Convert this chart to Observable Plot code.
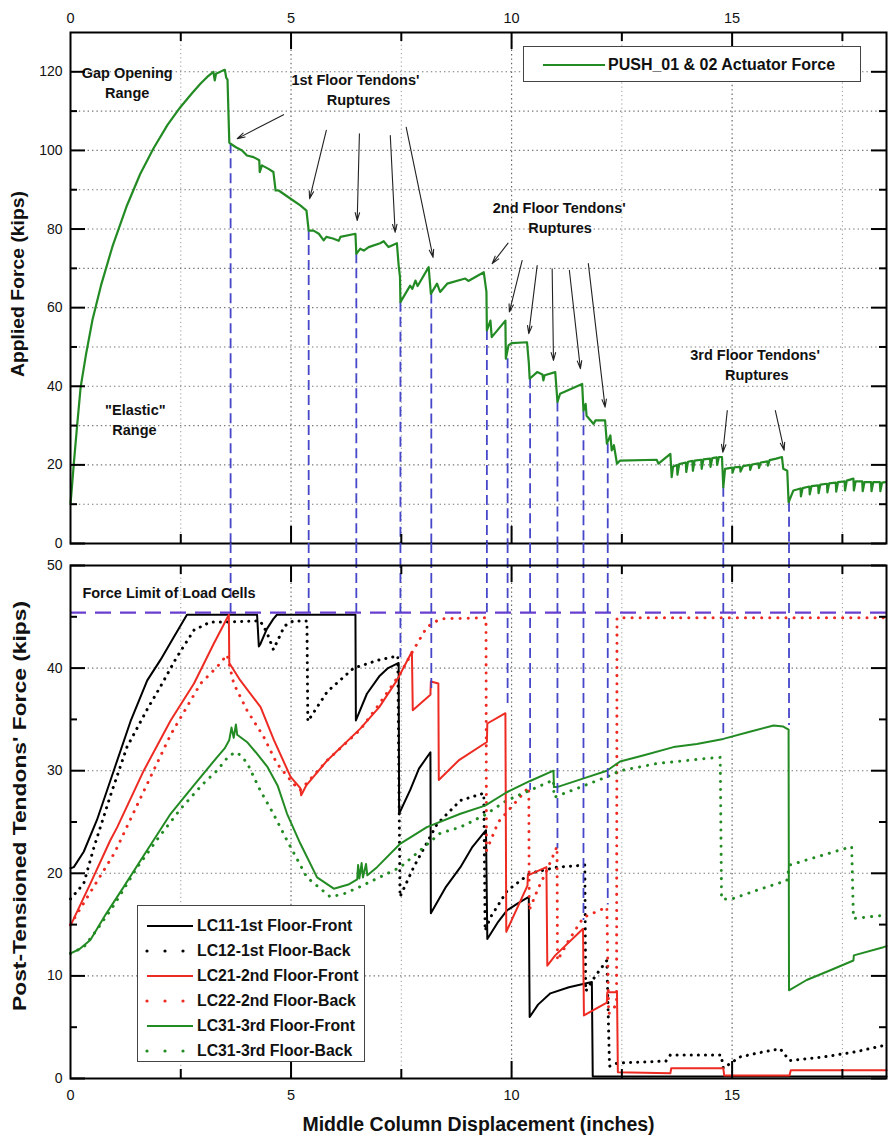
<!DOCTYPE html>
<html>
<head>
<meta charset="utf-8">
<script src="https://cdn.jsdelivr.net/npm/d3@7"></script>
<script src="https://cdn.jsdelivr.net/npm/@observablehq/plot@0.6"></script>
<style>
  body { margin: 0; background: #fff; }
  #wrap { position: relative; width: 889px; height: 1141px; font-family: "Liberation Sans", Arial, sans-serif; overflow: hidden; }
  .panel { position: absolute; left: 0; }
  .panel svg { background: transparent !important; display: block; }
  .legend { position: absolute; background: #fff; border: 1px solid #444; box-sizing: border-box; }
  .lrow { position: absolute; left: 0; height: 20px; display: flex; align-items: center; white-space: nowrap; font-weight: bold; color: #111; }
  .lrow svg { flex: none; }
</style>
</head>
<body>
<div id="wrap">
  <div class="panel" id="topPanel" style="top:0"></div>
  <div class="panel" id="botPanel" style="top:543px"></div>
</div>
<script>
// ---------------- DATA ----------------
const xDomain = [0, 18.5];
const topYDomain = [0, 130];
const botYDomain = [0, 50];

// Applied force (kips) vs middle column displacement (inches)
const pushForce = [
  [0,10],[0.03,14],[0.075,20.3],[0.15,30],[0.23,39.8],[0.35,48],[0.5,57],[0.7,66],[0.95,75.5],[1.28,86],[1.58,94],[1.88,100.5],[2.2,106.5],[2.49,111],[2.75,114.5],[2.95,117],[3.1,118.7],[3.24,120],[3.27,117.8],[3.3,119.5],[3.45,120.3],[3.5,120.5],[3.53,118.5],[3.56,118],[3.6,102],[3.63,101.7],[3.75,100.8],[3.89,100],[4.0,98.7],[4.15,98.3],[4.28,97.5],[4.29,94.5],[4.34,96.2],[4.49,95.3],[4.6,94.5],[4.65,89.8],[4.72,89.8],[4.99,87.7],[5.21,86],[5.35,84.7],[5.4,79.6],[5.51,79.6],[5.63,78.8],[5.74,77.1],[5.8,78],[5.95,77.6],[6.08,77],[6.12,78],[6.46,78.8],[6.48,73.7],[6.57,75],[6.65,74.5],[6.76,75.4],[7.02,76.4],[7.1,76.9],[7.21,75.4],[7.40,76.4],[7.44,70.7],[7.47,67.8],[7.48,61.4],[7.7,65.6],[7.75,64.8],[7.82,66.9],[7.87,65.5],[8.12,70.3],[8.17,63.5],[8.31,66.1],[8.38,64],[8.54,66.1],[8.95,67.4],[9.02,66.8],[9.37,69],[9.43,64],[9.44,54.2],[9.52,56.7],[9.55,52.5],[9.86,56.7],[9.87,47],[9.93,50.4],[10.0,51],[10.35,51.2],[10.39,46.1],[10.41,41.9],[10.58,43.6],[10.7,43],[10.72,41.5],[10.75,42.8],[10.99,43.6],[11.04,36],[11.1,38.1],[11.6,40.6],[11.63,33.8],[11.68,35.5],[11.7,32.5],[11.86,30.4],[11.9,31.3],[12.12,31.3],[12.16,25.4],[12.24,27.5],[12.27,23.7],[12.32,25],[12.39,20.3],[12.46,21.1],[13.29,21.3],[13.33,20.3],[13.6,22.8],[13.63,16.9],[13.66,19.5],[13.75,20],[13.76,17.5],[13.8,20.2],[13.95,20.6],[13.96,18.2],[14.0,20.8],[14.1,21],[14.11,18.5],[14.15,21.1],[14.3,21.3],[14.31,19],[14.35,21.4],[14.5,21.6],[14.51,19.5],[14.55,21.7],[14.65,21.9],[14.66,20],[14.7,22],[14.77,22],[14.8,14.3],[14.84,19],[15.0,19.3],[15.01,18],[15.05,19.4],[15.18,19.5],[15.19,18.3],[15.25,19.7],[15.4,20],[15.41,18.7],[15.45,20.1],[15.6,20.4],[15.61,19.2],[15.65,20.6],[15.8,20.9],[15.81,19.8],[15.85,21.2],[16.0,21.6],[16.13,22],[16.16,19],[16.25,18.5],[16.28,10.5],[16.39,13.5],[16.55,14],[16.56,12],[16.6,14.1],[16.75,14.5],[16.76,12.5],[16.8,14.6],[16.95,14.8],[16.96,12.8],[17.0,15],[17.15,15.2],[17.16,13],[17.2,15.3],[17.35,15.5],[17.36,13.2],[17.4,15.6],[17.55,15.8],[17.56,13.5],[17.6,16],[17.75,16.5],[17.76,13.5],[17.8,15.8],[17.95,15.8],[17.96,13.3],[18.0,15.6],[18.15,15.6],[18.16,13.3],[18.2,15.6],[18.35,15.6],[18.36,13.3],[18.4,15.5],[18.47,15.6]
];

// Post-tensioned tendon forces (kips)
const lc11 = [[0,20.5],[0.075,20.6],[0.3,22.1],[0.6,25.2],[0.98,30],[1.36,34.8],[1.74,38.8],[2.04,40.8],[2.34,43],[2.64,45.2],[4.23,45.2],[4.27,42.1],[4.3,42.3],[4.45,43.8],[4.6,44.8],[4.68,45.2],[6.46,45.2],[6.47,34.9],[6.72,37.5],[7.0,39.2],[7.2,40],[7.44,40.5],[7.45,25.8],[7.7,28.1],[7.9,30.2],[8.16,31.8],[8.17,16.1],[8.5,18.6],[8.84,20.6],[9.1,22.5],[9.42,24.2],[9.45,13.6],[9.7,15.3],[9.9,16.4],[10.15,17.1],[10.39,17.7],[10.41,6.0],[10.6,7.2],[10.88,8.3],[11.3,8.9],[11.82,9.4],[11.84,0.2],[18.5,0.2]];
const lc12 = [[0,17.5],[0.3,19],[0.53,22.5],[0.9,27.5],[1.28,32.3],[1.74,36],[2.04,38.2],[2.4,41],[2.8,43.7],[3.17,44.5],[3.55,44.5],[4.3,44.6],[4.45,43.5],[4.6,41.8],[4.85,44.1],[5.05,44.6],[5.36,44.6],[5.38,34.8],[5.82,37.7],[6.42,40],[7.0,40.8],[7.33,41.1],[7.42,41.2],[7.47,17.7],[7.78,20.6],[8.31,24.8],[8.84,27.1],[9.37,27.8],[9.4,14.4],[9.52,15.7],[9.9,18.3],[10.42,20],[11.03,20.6],[11.66,20.8],[11.68,8.5],[11.9,10],[12.16,11.5],[12.22,1.2],[12.4,1.5],[13.5,1.7],[13.6,2.3],[14.75,2.3],[14.8,1.0],[14.9,1.3],[15.18,2.1],[15.6,2.5],[16.09,2.9],[16.3,1.75],[17.07,2.1],[17.8,2.6],[18.42,3.2]];
const lc21 = [[0,14.9],[0.45,19],[0.9,23.2],[1.06,24.5],[1.66,30],[2.27,34.9],[2.8,38.5],[3.25,42.4],[3.59,45.2],[3.6,40.5],[3.85,38.8],[4.31,36.2],[4.61,33],[4.99,29.4],[5.21,28.3],[5.23,27.6],[5.35,28.6],[5.82,31],[6.57,34.1],[7.0,36.2],[7.4,38.8],[7.74,41.6],[7.76,35.9],[8.16,37.4],[8.17,38.7],[8.34,38.5],[8.35,29.1],[8.8,31],[9.44,32.8],[9.45,34.6],[9.86,35.6],[9.88,14.3],[10.36,18.8],[10.37,19.8],[10.79,20.6],[10.81,11.0],[10.99,12],[11.62,14.6],[11.64,6.15],[12.16,7.4],[12.17,8.4],[12.39,8.4],[12.41,0.6],[13.6,0.5],[13.62,1.0],[14.8,1.0],[14.82,0.3],[16.3,0.3],[16.33,0.8],[18.5,0.8]];
const lc22 = [[0,15],[0.5,18.5],[1.0,22],[1.66,28],[2.27,33.5],[2.95,38.5],[3.32,40.1],[3.55,41.3],[3.7,38.5],[4.0,35.9],[4.38,33.3],[4.68,30.7],[5.06,28.7],[5.21,28.1],[5.82,31],[6.57,34],[7.0,36.5],[7.48,39.5],[7.78,41.8],[8.08,44],[8.38,44.8],[9.42,44.9],[9.43,22.2],[9.7,25],[10.39,28.4],[10.4,16.4],[10.6,18.5],[10.8,20.3],[11.03,22.6],[11.04,11.5],[11.3,13.5],[11.63,15.7],[12.16,16.7],[12.2,6.3],[12.3,6.8],[12.38,7.2],[12.39,44.9],[18.5,44.9]];
const lc31 = [[0,12.2],[0.2,12.6],[0.45,13.5],[0.8,16],[1.21,18.7],[1.7,22],[2.27,25.8],[2.8,28.6],[3.32,31.3],[3.5,32.2],[3.6,33],[3.65,34.2],[3.7,33.2],[3.75,34.5],[3.78,33.5],[4.0,32.8],[4.2,31.8],[4.46,30.4],[4.7,28.5],[4.91,25.8],[5.21,22.9],[5.59,19.6],[5.97,18.5],[6.3,18.9],[6.5,19.4],[6.52,20.8],[6.55,19.5],[6.6,21],[6.63,19.6],[6.7,20.9],[6.73,19.8],[6.95,20.6],[7.48,22.9],[8.08,24.5],[8.84,25.8],[9.4,26.6],[9.89,27.9],[10.42,29],[10.95,30],[10.96,28.4],[11.03,28.4],[11.6,29.2],[12.16,30],[12.46,30.9],[13.0,31.5],[13.67,32.3],[14.2,32.6],[14.8,33.1],[15.4,33.8],[15.94,34.4],[16.16,34.3],[16.28,34],[16.29,8.6],[16.69,9.6],[17.2,10.5],[17.75,11.5],[17.76,12],[18.43,12.8],[18.5,12.9]];
const lc32 = [[0,12.2],[0.3,12.8],[0.6,14.5],[1.0,17],[1.5,20.5],[2.0,23.5],[2.5,26.3],[3.0,28.7],[3.32,30],[3.6,31.5],[3.78,31.8],[4.0,30.8],[4.3,28.1],[4.6,25.8],[4.91,23.2],[5.36,19.6],[5.89,17.7],[6.2,18],[6.57,18.7],[7.48,20.6],[8.38,23.9],[8.84,24.5],[9.4,25.7],[9.89,27.1],[10.95,29.1],[10.96,27.4],[11.5,28.3],[12.16,29.4],[12.46,30],[13.3,30.7],[14.43,31.2],[14.73,31.3],[14.76,17.5],[14.99,17.5],[15.6,18.4],[16.24,19.3],[16.3,20.8],[17.0,21.7],[17.71,22.6],[17.75,15.6],[18.43,15.9],[18.5,15.9]];

const forceLimit = 45.4;

// Rupture markers: displacement, applied force at rupture, tendon force where the dashed line ends
const ruptureX   = [3.63, 5.40, 6.48, 7.48, 8.18, 9.44, 9.91, 10.42, 11.04, 11.63, 12.18, 14.80, 16.29];
const ruptureTop = [101.7, 79.6, 73.7, 61.4, 63.5, 54.2, 47, 41.9, 36, 33.8, 25.4, 14.3, 10.5];
const ruptureBot = [45.4, 45.4, 45.4, 41, 37.5, 45.4, 36.2, 28.1, 22.4, 15.4, 16.9, 33.1, 34.4];

// Annotations (top panel)
const annoText = ["Gap Opening", "Range", "1st Floor Tendons'", "Ruptures", "2nd Floor Tendons'", "Ruptures", "3rd Floor Tendons'", "Ruptures", "\"Elastic\"", "Range"];
const annoX = [1.285, 1.285, 6.46, 6.53, 11.08, 11.10, 15.52, 15.56, 1.47, 1.45];
const annoY = [119.6, 114.4, 117.8, 112.7, 85.3, 80.1, 47.8, 42.7, 33.8, 28.8];

const arrowX1 = [4.83, 5.80, 6.55, 7.25, 7.61, 9.92, 10.24, 10.58, 10.92, 11.31, 11.74, 14.89, 15.98];
const arrowY1 = [109.1, 105.1, 104.2, 103.8, 105.9, 76.4, 72.0, 70.7, 69.9, 69.5, 71.2, 33.8, 33.8];
const arrowX2 = [3.78, 5.42, 6.50, 7.36, 8.22, 9.56, 9.95, 10.39, 10.95, 11.56, 12.12, 14.79, 16.18];
const arrowY2 = [103.0, 87.7, 82.2, 79.2, 72.8, 71.2, 58.9, 53.4, 46.6, 44.5, 34.7, 23.2, 23.7];

// Ticks / grid
const xTickLabels = [0, 5, 10, 15];
const xTicksMajor = [5, 10, 15];
const xTicksMinor = [2.5, 7.5, 12.5, 17.5];
const topYLabels = [0, 20, 40, 60, 80, 100, 120];
const topYMinor = [10, 30, 50, 70, 90, 110];
const topGridY = [10, 20, 30, 40, 50, 60, 70, 80, 90, 100, 110, 120];
const botYLabels = [0, 10, 20, 30, 40, 50];
const botYMinor = [5, 15, 25, 35, 45];
const botGridY = [10, 20, 30, 40];

// Legends
const topLegendLabel = "PUSH_01 & 02 Actuator Force";
const legendLabels = ["LC11-1st Floor-Front", "LC12-1st Floor-Back", "LC21-2nd Floor-Front", "LC22-2nd Floor-Back", "LC31-3rd Floor-Front", "LC31-3rd Floor-Back"];
const GREEN = "#238b23", RED = "#ee2b22", BLUE = "#4747c9", PURPLE = "#6a3fcf";
const legendColors = ["#000", "#000", RED, RED, GREEN, GREEN];
const legendDotted = [false, true, false, true, false, true];

// ---------------- DRAW ----------------
const FONT = "'Liberation Sans', Arial, sans-serif";
const W = 889, ML = 70, MR = 3;
const innerW = W - ML - MR;
const X = d => d[0], Y = d => d[1];

const ruptures = ruptureX.map((x, i) => ({x, top: ruptureTop[i], bot: ruptureBot[i]}));
const annos = annoText.map((t, i) => ({t, x: annoX[i], y: annoY[i]}));
const arrows = arrowX1.map((x1, i) => ({x1, y1: arrowY1[i], x2: arrowX2[i], y2: arrowY2[i]}));

function frameTicks(innerH) {
  return [
    Plot.tickX(xTicksMajor, {insetBottom: innerH - 17, stroke: "#000", strokeWidth: 2}),
    Plot.tickX(xTicksMinor, {insetBottom: innerH - 9, stroke: "#000", strokeWidth: 2}),
    Plot.tickX(xTicksMajor, {insetTop: innerH - 17, stroke: "#000", strokeWidth: 2}),
    Plot.tickX(xTicksMinor, {insetTop: innerH - 9, stroke: "#000", strokeWidth: 2})
  ];
}
function yTicks(major, minor) {
  return [
    Plot.tickY(major, {insetRight: innerW - 15, stroke: "#000", strokeWidth: 2}),
    Plot.tickY(minor, {insetRight: innerW - 7, stroke: "#000", strokeWidth: 2}),
    Plot.tickY(major, {insetLeft: innerW - 15, stroke: "#000", strokeWidth: 2}),
    Plot.tickY(minor, {insetLeft: innerW - 7, stroke: "#000", strokeWidth: 2})
  ];
}
const gridMarks = (gy) => [
  Plot.ruleX(xTicksMinor, {stroke: "#9a9a9a", strokeDasharray: "1.2,3", strokeWidth: 1}),
  Plot.ruleX(xTicksMajor, {stroke: "#666", strokeDasharray: "1.4,3", strokeWidth: 1.2}),
  Plot.ruleY(gy, {stroke: "#777", strokeDasharray: "1.4,3", strokeWidth: 1.1})
];

// Top panel
const topInnerH = 511;
const topPlot = Plot.plot({
  width: W, height: 556, marginLeft: ML, marginRight: MR, marginTop: 32, marginBottom: 13,
  style: {background: "transparent", fontFamily: FONT, color: "#111"},
  x: {domain: xDomain},
  y: {domain: topYDomain},
  marks: [
    ...gridMarks(topGridY),
    Plot.ruleX(ruptures, {x: "x", y1: "top", y2: 0, stroke: BLUE, strokeWidth: 1.8, strokeDasharray: "10,5"}),
    Plot.line(pushForce, {x: X, y: Y, stroke: GREEN, strokeWidth: 2.2, curve: "linear"}),
    Plot.arrow(arrows, {x1: "x1", y1: "y1", x2: "x2", y2: "y2", stroke: "#222", strokeWidth: 1.1, headLength: 11, headAngle: 32}),
    Plot.text(annos, {x: "x", y: "y", text: "t", fontSize: 14.5, fontWeight: "bold", fill: "#111"}),
    Plot.frame({stroke: "#000", strokeWidth: 2}),
    ...frameTicks(topInnerH),
    ...yTicks(topYLabels, topYMinor),
    Plot.axisX({anchor: "top", ticks: xTickLabels, tickSize: 0, tickPadding: 10, fontSize: 14.5, label: null}),
    Plot.axisY({anchor: "left", ticks: topYLabels, tickSize: 0, tickPadding: 8, fontSize: 14, label: null}),
    Plot.text(["Applied Force (kips)"], {text: d => d, frameAnchor: "left", rotate: -90, dx: -52, dy: -4, fontSize: 18, fontWeight: "bold", fill: "#111"})
  ]
});

// Bottom panel
const botInnerH = 513;
const gapTop = botYDomain[1] + 22 / (botInnerH / (botYDomain[1] - botYDomain[0]));
const botPlot = Plot.plot({
  width: W, height: 598, marginLeft: ML, marginRight: MR, marginTop: 22, marginBottom: 63,
  style: {background: "transparent", fontFamily: FONT, color: "#111"},
  x: {domain: xDomain},
  y: {domain: botYDomain},
  marks: [
    ...gridMarks(botGridY),
    Plot.line(lc12, {x: X, y: Y, stroke: "#000", strokeWidth: 3, strokeDasharray: "0.1,7", strokeLinecap: "round"}),
    Plot.line(lc11, {x: X, y: Y, stroke: "#000", strokeWidth: 2}),
    Plot.line(lc22, {x: X, y: Y, stroke: RED, strokeWidth: 3, strokeDasharray: "0.1,8", strokeLinecap: "round"}),
    Plot.line(lc32, {x: X, y: Y, stroke: GREEN, strokeWidth: 3, strokeDasharray: "0.1,8", strokeLinecap: "round"}),
    Plot.line(lc21, {x: X, y: Y, stroke: RED, strokeWidth: 2}),
    Plot.line(lc31, {x: X, y: Y, stroke: GREEN, strokeWidth: 2}),
    Plot.ruleY([forceLimit], {stroke: PURPLE, strokeWidth: 2.3, strokeDasharray: "16,9"}),
    Plot.ruleX(ruptures, {x: "x", y1: gapTop, y2: "bot", stroke: BLUE, strokeWidth: 1.8, strokeDasharray: "10,5"}),
    Plot.text(["Force Limit of Load Cells"], {text: d => d, x: 0.27, y: 47.3, textAnchor: "start", fontSize: 14.5, fontWeight: "bold", fill: "#111"}),
    Plot.frame({stroke: "#000", strokeWidth: 2}),
    ...frameTicks(botInnerH),
    ...yTicks(botYLabels, botYMinor),
    Plot.axisX({anchor: "bottom", ticks: xTickLabels, tickSize: 0, tickPadding: 11, fontSize: 14.5, label: null}),
    Plot.axisY({anchor: "left", ticks: botYLabels, tickSize: 0, tickPadding: 8, fontSize: 14, label: null}),
    Plot.text(["Post-Tensioned Tendons' Force (kips)"], {text: d => d, frameAnchor: "left", rotate: -90, dx: -50, dy: -16, fontSize: 18, fontWeight: "bold", fill: "#111"}),
    Plot.text(["Middle Column Displacement (inches)"], {text: d => d, frameAnchor: "bottom", dy: 52, fontSize: 19.5, fontWeight: "bold", fill: "#111"})
  ]
});

document.getElementById("topPanel").appendChild(topPlot);
document.getElementById("botPanel").appendChild(botPlot);

// stretch condensed axis titles to their span (centered on their anchor)
function fitText(svg, label, len) {
  d3.select(svg).selectAll("text").filter(function () { return this.textContent === label; })
    .each(function () {
      this.setAttribute("text-anchor", "start");
      this.setAttribute("x", -len / 2);
      this.setAttribute("textLength", len);
      this.setAttribute("lengthAdjust", "spacingAndGlyphs");
    });
}
fitText(topPlot, "Applied Force (kips)", 186);
fitText(botPlot, "Post-Tensioned Tendons' Force (kips)", 410);

// ---------------- LEGENDS ----------------
const wrap = document.getElementById("wrap");
function sample(color, dotted, w) {
  const ns = "http://www.w3.org/2000/svg";
  const s = document.createElementNS(ns, "svg");
  s.setAttribute("width", w + 4); s.setAttribute("height", 10);
  const l = document.createElementNS(ns, "line");
  l.setAttribute("x1", 2); l.setAttribute("x2", w + 2); l.setAttribute("y1", 5); l.setAttribute("y2", 5);
  l.setAttribute("stroke", color);
  if (dotted) { l.setAttribute("stroke-width", 3.2); l.setAttribute("stroke-dasharray", "0,18"); l.setAttribute("stroke-linecap", "round"); }
  else l.setAttribute("stroke-width", 2.2);
  s.appendChild(l);
  return s;
}
// top legend
const tl = document.createElement("div");
tl.className = "legend";
Object.assign(tl.style, {left: "523px", top: "46px", width: "338px", height: "36px"});
const tr = document.createElement("div");
tr.className = "lrow";
Object.assign(tr.style, {top: "8px", left: "17px", fontSize: "16px"});
tr.appendChild(sample(GREEN, false, 62));
const tt = document.createElement("span"); tt.textContent = topLegendLabel; tt.style.marginLeft = "1px";
tr.appendChild(tt);
tl.appendChild(tr);
wrap.appendChild(tl);
// bottom legend
const bl = document.createElement("div");
bl.className = "legend";
Object.assign(bl.style, {left: "137px", top: "905px", width: "228px", height: "157px"});
legendLabels.forEach((lab, i) => {
  const r = document.createElement("div");
  r.className = "lrow";
  Object.assign(r.style, {top: (10 + i * 25) + "px", left: "7px", fontSize: "15.8px"});
  r.appendChild(sample(legendColors[i], legendDotted[i], 46));
  const t = document.createElement("span"); t.textContent = lab; t.style.marginLeft = "2px";
  r.appendChild(t);
  bl.appendChild(r);
});
wrap.appendChild(bl);
</script>
</body>
</html>
